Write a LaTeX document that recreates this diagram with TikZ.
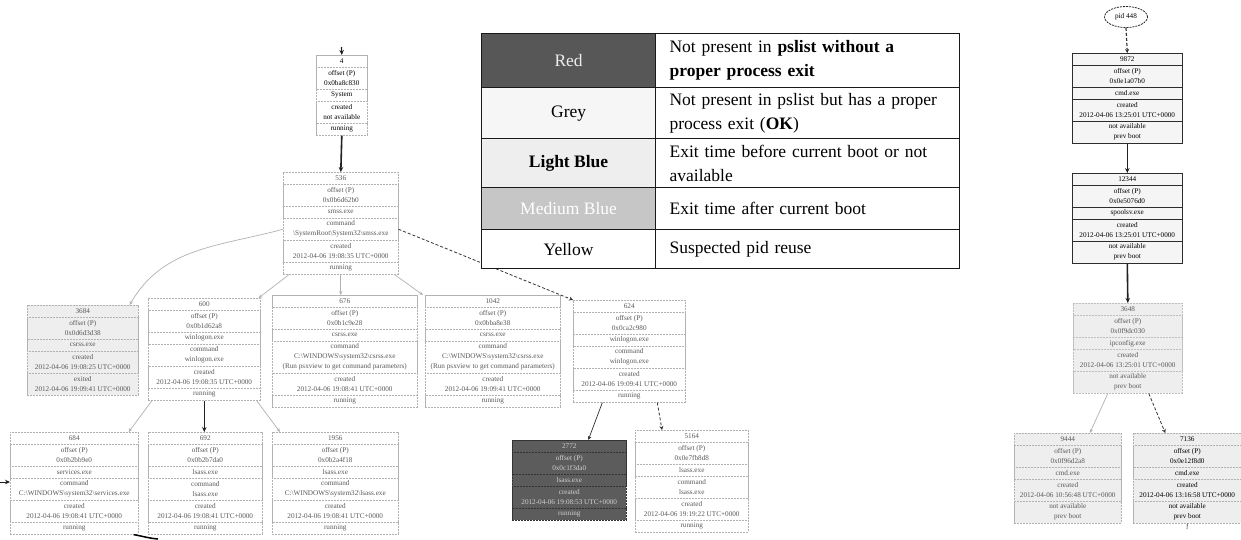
\documentclass[tikz,border=0pt]{standalone}
\usepackage{fontspec}
\setmainfont{Liberation Serif}
\usetikzlibrary{arrows.meta,shapes.geometric}
\newcommand\recfont{\fontsize{7.2}{10}\selectfont}
\newcommand\rec[6]{%
  \xdef\cury{#3}%
  \foreach \nl/\txt [count=\ri] in {#6}{%
    \pgfmathsetmacro\rowh{12+(\nl-1)*10}%
    \node[rowbase,#5,minimum width=#4pt,minimum height=\rowh pt,anchor=north west] (#1-\ri) at (#2,\cury) {\txt};%
    \pgfmathsetmacro\rowy{\cury+\rowh}%
    \xdef\cury{\rowy}%
  }%
  \pgfmathsetmacro\toth{\cury-#3}%
  \node[recframe,#5,fill=none,minimum width=#4pt,minimum height=\toth pt,anchor=north west] (#1) at (#2,#3) {};%
}
\tikzset{
 rowbase/.style={draw=gray!60, dash pattern=on 2pt off 1pt, line width=0.5pt, inner sep=0.5pt, align=center, font=\recfont},
 wbox/.style={fill=white, text=gray!70!black},
 gbox/.style={fill=gray!13, text=gray!70!black},
 dbox/.style={fill=gray!72!black, draw=gray!40!black, text=gray!35},
 sbox/.style={fill=gray!8, draw=gray!35!black, solid, text=black},
 recframe/.style={draw=gray!60, dash pattern=on 2pt off 1pt, line width=0.6pt, inner sep=0pt},
 edgeG/.style={draw=gray!60, line width=0.7pt, -{Stealth[length=4pt,width=3.5pt]}},
 edgeD/.style={draw=gray!25!black, line width=1.6pt, -{Stealth[length=5pt,width=4.5pt]}},
 edgeDash/.style={draw=gray!40!black, line width=0.8pt, dash pattern=on 3pt off 2pt, -{Stealth[length=4pt,width=4pt]}},
 legcell/.style={draw=gray!20!black, line width=1.2pt, inner sep=0pt, font=\fontsize{17.5}{24}\selectfont},
 legtxt/.style={legcell, fill=white, align=left, inner xsep=14pt, anchor=north west, text width=276pt},
}
\begin{document}
\begin{tikzpicture}[x=1pt,y=-1pt]
\useasboundingbox (0,0) rectangle (1241,539);
\fill[white] (0,0) rectangle (1241,539);

% ---------------- left tree ----------------
\rec{n4}{316}{55}{51}{wbox,text=black}{1/4, 2/offset (P)\\0x0ba8c830, 1/System, 2/created\\not available, 1/running}
\rec{p536}{283}{172}{115}{wbox}{1/536, 2/offset (P)\\0x0b6d62b0, 1/smss.exe, 2/command\\\textbackslash SystemRoot\textbackslash System32\textbackslash smss.exe, 2/created\\2012-04-06 19:08:35 UTC+0000, 1/running}

\rec{c3684}{27}{305}{111}{gbox}{1/3684, 2/offset (P)\\0x0d6d3d38, 1/csrss.exe, 2/created\\2012-04-06 19:08:25 UTC+0000, 2/exited\\2012-04-06 19:09:41 UTC+0000}
\rec{c600}{148}{298}{112}{wbox}{1/600, 2/offset (P)\\0x0b1d62a8, 1/winlogon.exe, 2/command\\winlogon.exe, 2/created\\2012-04-06 19:08:35 UTC+0000, 1/running}
\rec{c676}{272}{295}{145}{wbox}{1/676, 2/offset (P)\\0x0b1c9e28, 1/csrss.exe, 3/command\\C:\textbackslash WINDOWS\textbackslash system32\textbackslash csrss.exe\\(Run psxview to get command parameters), 2/created\\2012-04-06 19:08:41 UTC+0000, 1/running}
\rec{c1042}{425}{295}{135}{wbox}{1/1042, 2/offset (P)\\0x0bba8e38, 1/csrss.exe, 3/command\\C:\textbackslash WINDOWS\textbackslash system32\textbackslash csrss.exe\\(Run psxview to get command parameters), 2/created\\2012-04-06 19:09:41 UTC+0000, 1/running}
\rec{c624}{573}{300}{112}{wbox}{1/624, 2/offset (P)\\0x0ca2c980, 1/winlogon.exe, 2/command\\winlogon.exe, 2/created\\2012-04-06 19:09:41 UTC+0000, 1/running}

\rec{c684}{10}{432}{128}{wbox}{1/684, 2/offset (P)\\0x0b2bb9e0, 1/services.exe, 2/command\\C:\textbackslash WINDOWS\textbackslash system32\textbackslash services.exe, 2/created\\2012-04-06 19:08:41 UTC+0000, 1/running}
\rec{c692}{148}{432}{114}{wbox}{1/692, 2/offset (P)\\0x0b2b7da0, 1/lsass.exe, 2/command\\lsass.exe, 2/created\\2012-04-06 19:08:41 UTC+0000, 1/running}
\rec{c1956}{272}{432}{126}{wbox}{1/1956, 2/offset (P)\\0x0b2a4f18, 1/lsass.exe, 2/command\\C:\textbackslash WINDOWS\textbackslash system32\textbackslash lsass.exe, 2/created\\2012-04-06 19:08:41 UTC+0000, 1/running}

\rec{red}{512}{440}{114}{dbox}{1/2772, 2/offset (P)\\0x0c1f3da0, 1/lsass.exe, 2/created\\2012-04-06 19:08:53 UTC+0000, 1/running}
\rec{c5164}{635}{430}{113}{wbox}{1/5164, 2/offset (P)\\0x0e7fb8d8, 1/lsass.exe, 2/command\\lsass.exe, 2/created\\2012-04-06 19:19:22 UTC+0000, 1/running}

% edges (left)
\coordinate (t4) at (341.5,47);
\draw[edgeD,line width=1.2pt] (t4) -- (n4.north);
\draw[edgeD] (n4.south) -- (p536.north);
\draw[edgeG] (p536-4.west) to[out=195,in=60] ([xshift=-9pt]c3684.north east);
\draw[edgeG] ([xshift=6pt]p536.south west) -- ([xshift=-2pt]c600.north east);
\draw[edgeG] (p536.south) -- (p536.south |- c676.north);
\draw[edgeG] ([xshift=-4pt]p536.south east) -- ([xshift=-2pt]c1042.north west);
\draw[edgeDash] (p536-4.east) -- (c624.north west);
\draw[edgeG] ([xshift=4pt]c600.south west) -- ([xshift=-10pt]c684.north east);
\draw[edgeD,line width=1pt] (c600.south) -- (c600.south |- c692.north);
\draw[edgeG] ([xshift=-4pt]c600.south east) -- ([xshift=8pt]c1956.north west);
\draw[edgeG,draw=gray!40!black] ([xshift=-27pt]c624.south) -- ([xshift=19pt]red.north);
\draw[edgeDash] ([xshift=28pt]c624.south) -- ([xshift=27pt]c5164.north west);
\coordinate (l8) at (0,482);
\draw[edgeD,line width=1pt] (l8) -- (c684.west |- l8);
\coordinate (b8) at (158,539);
\draw[draw=black,line width=1.5pt] ([xshift=-5pt]c684.south east) to[out=-10,in=175] (b8);

% ---------------- right column ----------------
\node[draw=gray!30!black, dash pattern=on 2pt off 1pt, line width=0.8pt, ellipse, minimum width=43pt, minimum height=21pt, inner sep=0pt, font=\recfont] (psl) at (1126,17) {pid 448};
\rec{r9872}{1072}{53}{110}{sbox}{1/9872, 2/offset (P)\\0x0e1a07b0, 1/cmd.exe, 2/created\\2012-04-06 13:25:01 UTC+0000, 2/not available\\prev boot}
\rec{r12344}{1072}{173}{110}{sbox}{1/12344, 2/offset (P)\\0x0e5076d0, 1/spoolsv.exe, 2/created\\2012-04-06 13:25:01 UTC+0000, 2/not available\\prev boot}
\rec{r3648}{1073}{303}{109}{gbox,draw=gray!50}{1/3648, 2/offset (P)\\0x0f9dc030, 1/ipconfig.exe, 2/created\\2012-04-06 13:25:01 UTC+0000, 2/not available\\prev boot}
\rec{r9444}{1014}{433}{107}{gbox}{1/9444, 2/offset (P)\\0x0f96d2a8, 1/cmd.exe, 2/created\\2012-04-06 10:56:48 UTC+0000, 2/not available\\prev boot}
\rec{r7136}{1133}{433}{108}{gbox,text=black}{1/7136, 2/offset (P)\\0x0e12f8d0, 1/cmd.exe, 2/created\\2012-04-06 13:16:58 UTC+0000, 2/not available\\prev boot}

\draw[edgeDash,line width=1.2pt] (psl.south) -- (r9872.north);
\draw[edgeD] (r9872.south) -- (r12344.north);
\draw[edgeD] (r12344.south) -- (r3648.north);
\draw[edgeG] ([xshift=-20pt]r3648.south) -- ([xshift=22pt]r9444.north);
\draw[edgeDash] ([xshift=21pt]r3648.south) -- ([xshift=-22pt]r7136.north);
\coordinate (e71) at (1187,529);
\draw[gray!40!black,line width=0.6pt] (r7136.south) -- (e71);

% ---------------- legend ----------------
\node[legcell, fill=gray!68!black, text=gray!15, minimum width=174pt, minimum height=54pt, anchor=north west] (lRed) at (481,33) {Red};
\node[legtxt, minimum height=54pt] (dRed) at (655,33) {Not present in \textbf{pslist without a}\\\textbf{proper process exit}};
\node[legcell, fill=gray!7, minimum width=174pt, minimum height=51pt, anchor=north west] (lGrey) at (481,87) {Grey};
\node[legtxt, minimum height=51pt] (dGrey) at (655,87) {Not present in pslist but has a proper\\process exit (\textbf{OK})};
\node[legcell, fill=gray!13, minimum width=174pt, minimum height=49pt, anchor=north west] (lLB) at (481,138) {\textbf{Light Blue}};
\node[legtxt, minimum height=49pt] (dLB) at (655,138) {Exit time before current boot or not\\available};
\node[legcell, fill=gray!45, text=white, minimum width=174pt, minimum height=42pt, anchor=north west] (lMB) at (481,187) {Medium Blue};
\node[legtxt, minimum height=42pt] (dMB) at (655,187) {Exit time after current boot};
\node[legcell, fill=white, minimum width=174pt, minimum height=39pt, anchor=north west] (lY) at (481,229) {Yellow};
\node[legtxt, minimum height=39pt] (dY) at (655,229) {Suspected pid reuse};
\end{tikzpicture}
\end{document}
